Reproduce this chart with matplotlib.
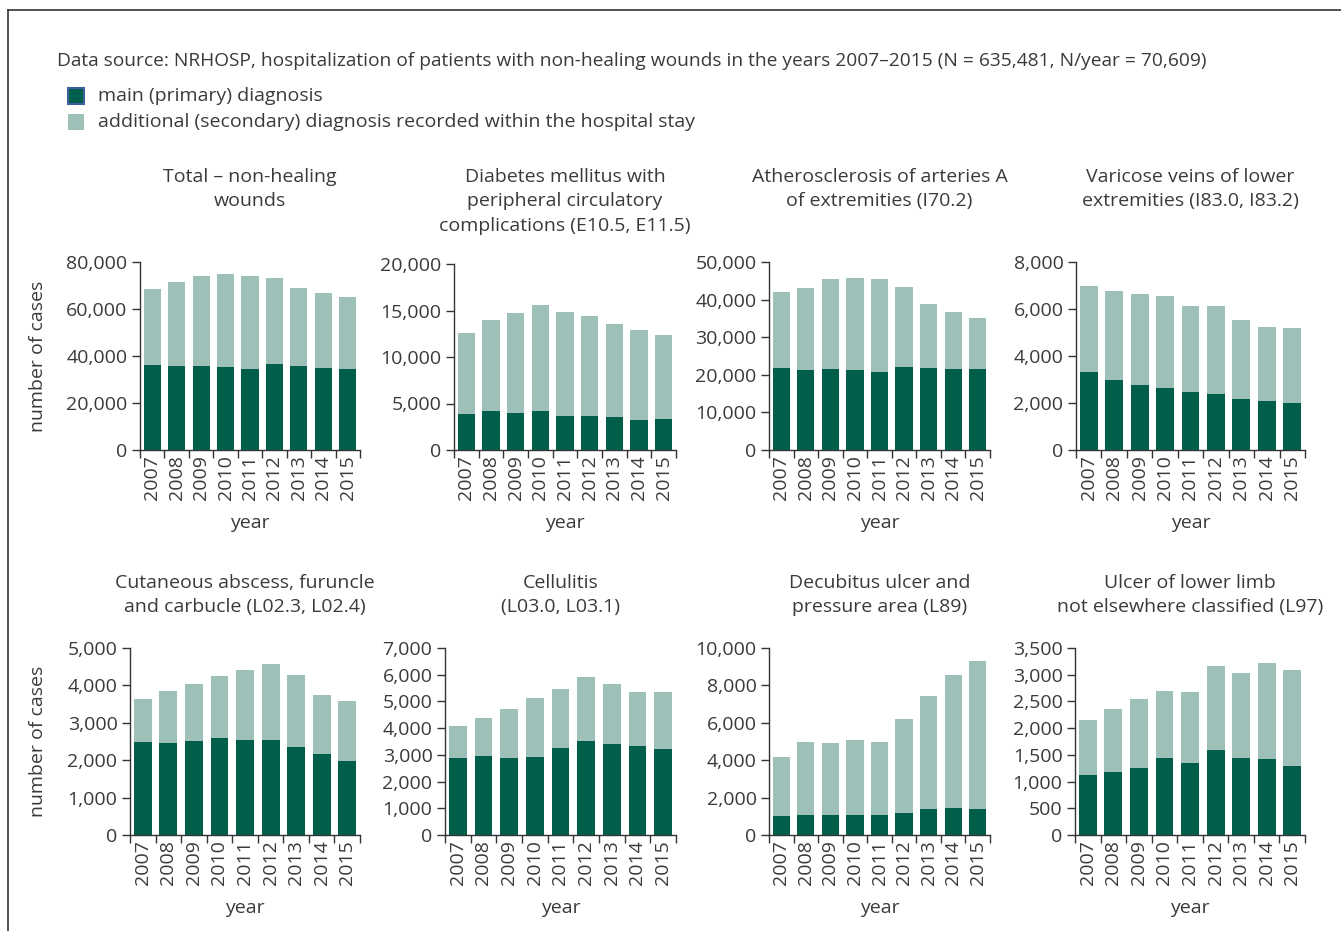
import matplotlib
matplotlib.use('Agg')
import matplotlib.pyplot as plt
from matplotlib.patches import Rectangle
from matplotlib.lines import Line2D
from matplotlib.ticker import FuncFormatter, MultipleLocator

plt.rcParams['font.family'] = ['Open Sans', 'DejaVu Sans']

years = ['2007', '2008', '2009', '2010', '2011', '2012', '2013', '2014', '2015']

# total hospitalizations (main + secondary) and main diagnosis, per panel
total_all = [68300, 71300, 73900, 74700, 73900, 73000, 68800, 67000, 65300]
main_all = [36300, 35900, 35900, 35400, 34600, 36700, 35900, 35000, 34600]

total_diab = [12600, 14000, 14700, 15600, 14800, 14400, 13600, 12900, 12400]
main_diab = [3850, 4160, 3950, 4160, 3630, 3630, 3520, 3200, 3310]

total_ath = [41900, 43000, 45400, 45700, 45400, 43300, 38700, 36600, 35000]
main_ath = [21700, 21200, 21450, 21200, 20650, 22000, 21700, 21450, 21450]

total_var = [6970, 6750, 6620, 6540, 6110, 6110, 5520, 5220, 5180]
main_var = [3300, 2970, 2750, 2620, 2450, 2370, 2160, 2070, 1990]

total_absc = [3630, 3840, 4030, 4260, 4420, 4560, 4290, 3730, 3570]
main_absc = [2480, 2460, 2510, 2590, 2540, 2540, 2350, 2160, 1980]

total_cell = [4070, 4370, 4700, 5110, 5450, 5930, 5670, 5340, 5340]
main_cell = [2880, 2950, 2880, 2920, 3250, 3510, 3400, 3330, 3220]

total_dec = [4190, 4980, 4930, 5090, 4980, 6200, 7420, 8530, 9330]
main_dec = [1010, 1060, 1060, 1060, 1060, 1170, 1380, 1430, 1380]

total_ulc = [2150, 2360, 2540, 2690, 2670, 3170, 3040, 3210, 3080]
main_ulc = [1130, 1170, 1260, 1450, 1350, 1600, 1450, 1430, 1300]

titles = [
    'Total – non-healing\nwounds',
    'Diabetes mellitus with\nperipheral circulatory\ncomplications (E10.5, E11.5)',
    'Atherosclerosis of arteries A\nof extremities (I70.2)',
    'Varicose veins of lower\nextremities (I83.0, I83.2)',
    'Cutaneous abscess, furuncle\nand carbucle (L02.3, L02.4)',
    'Cellulitis\n(L03.0, L03.1)',
    'Decubitus ulcer and\npressure area (L89)',
    'Ulcer of lower limb\nnot elsewhere classified (L97)',
]
totals = [total_all, total_diab, total_ath, total_var, total_absc, total_cell, total_dec, total_ulc]
mains = [main_all, main_diab, main_ath, main_var, main_absc, main_cell, main_dec, main_ulc]
ymax = [80000, 20000, 50000, 8000, 5000, 7000, 10000, 3500]
ystep = [20000, 5000, 10000, 2000, 1000, 1000, 2000, 500]

DARK = '#005e4b'
LIGHT = '#9dc0b8'
TXT = '#3a3a3a'
FS = 14

W, H = 1341, 931
fig = plt.figure(figsize=(W / 100, H / 100), dpi=100)

# axes boxes in pixels: left, right, top, bottom
boxes = [
    (140, 360, 262, 450), (454, 676, 264, 450), (769, 990, 262, 450), (1076, 1305, 262, 450),
    (130, 360, 648, 835), (445, 676, 648, 835), (769, 990, 648, 835), (1075, 1305, 648, 835),
]

fmt = FuncFormatter(lambda v, p: '{:,.0f}'.format(v))
x = list(range(len(years)))

for i in range(8):
    l, r, t, b = boxes[i]
    ax = fig.add_axes([l / W, 1 - b / H, (r - l) / W, (b - t) / H])
    ax.bar(x, totals[i], width=0.7, color=LIGHT, zorder=2)
    ax.bar(x, mains[i], width=0.7, color=DARK, zorder=3)
    ax.set_xlim(-0.5, 8.5)
    ax.set_ylim(0, ymax[i])
    ax.yaxis.set_major_locator(MultipleLocator(ystep[i]))
    ax.yaxis.set_major_formatter(fmt)
    ax.set_xticks([k - 0.5 for k in range(10)])
    ax.set_xticklabels([])
    ax.set_xticks(x, minor=True)
    ax.set_xticklabels(years, minor=True, rotation=90)
    ax.tick_params(axis='x', which='minor', length=0, pad=4, labelsize=FS, colors=TXT)
    ax.tick_params(axis='x', which='major', length=6, width=1, direction='out', color='#333333')
    ax.tick_params(axis='y', length=6, width=1, direction='out', pad=3, labelsize=FS,
                   colors=TXT, color='#333333')
    for s in ['top', 'right']:
        ax.spines[s].set_visible(False)
    for s in ['left', 'bottom']:
        ax.spines[s].set_color('#333333')
        ax.spines[s].set_linewidth(1)
    ax.set_xlabel('year', fontsize=FS, color=TXT, labelpad=10)
    if i % 4 == 0:
        fig.text(38 / W, 1 - (t + b) / 2 / H, 'number of cases', rotation=90,
                 ha='center', va='center', fontsize=FS, color=TXT)
    # titles top-aligned per row
    ty = 168 if i < 4 else 574
    fig.text((l + r) / 2 / W, 1 - ty / H, titles[i], ha='center', va='top',
             fontsize=FS, color=TXT, linespacing=1.45)

fig.text(57 / W, 1 - 61 / H,
         'Data source: NRHOSP, hospitalization of patients with non-healing wounds in the years 2007–2015 '
         '(N = 635,481, N/year = 70,609)',
         ha='left', va='center', fontsize=13.8, color=TXT)

fig.add_artist(Rectangle((68 / W, 1 - 104 / H), 16 / W, 16 / H, transform=fig.transFigure,
                         facecolor=DARK, edgecolor='#3d5f9a', linewidth=1.5))
fig.add_artist(Rectangle((68 / W, 1 - 130 / H), 16 / W, 16 / H, transform=fig.transFigure,
                         facecolor=LIGHT, edgecolor='none'))
fig.text(98 / W, 1 - 96 / H, 'main (primary) diagnosis', ha='left', va='center', fontsize=FS, color=TXT)
fig.text(98 / W, 1 - 122 / H, 'additional (secondary) diagnosis recorded within the hospital stay',
         ha='left', va='center', fontsize=FS, color=TXT)

# outer frame
fig.add_artist(Line2D([8 / W, 8 / W], [0, 1 - 10 / H], transform=fig.transFigure, color='#333333', lw=1.2))
fig.add_artist(Line2D([8 / W, 1], [1 - 10 / H, 1 - 10 / H], transform=fig.transFigure, color='#333333', lw=1.2))

fig.savefig('out.png', dpi=100)
